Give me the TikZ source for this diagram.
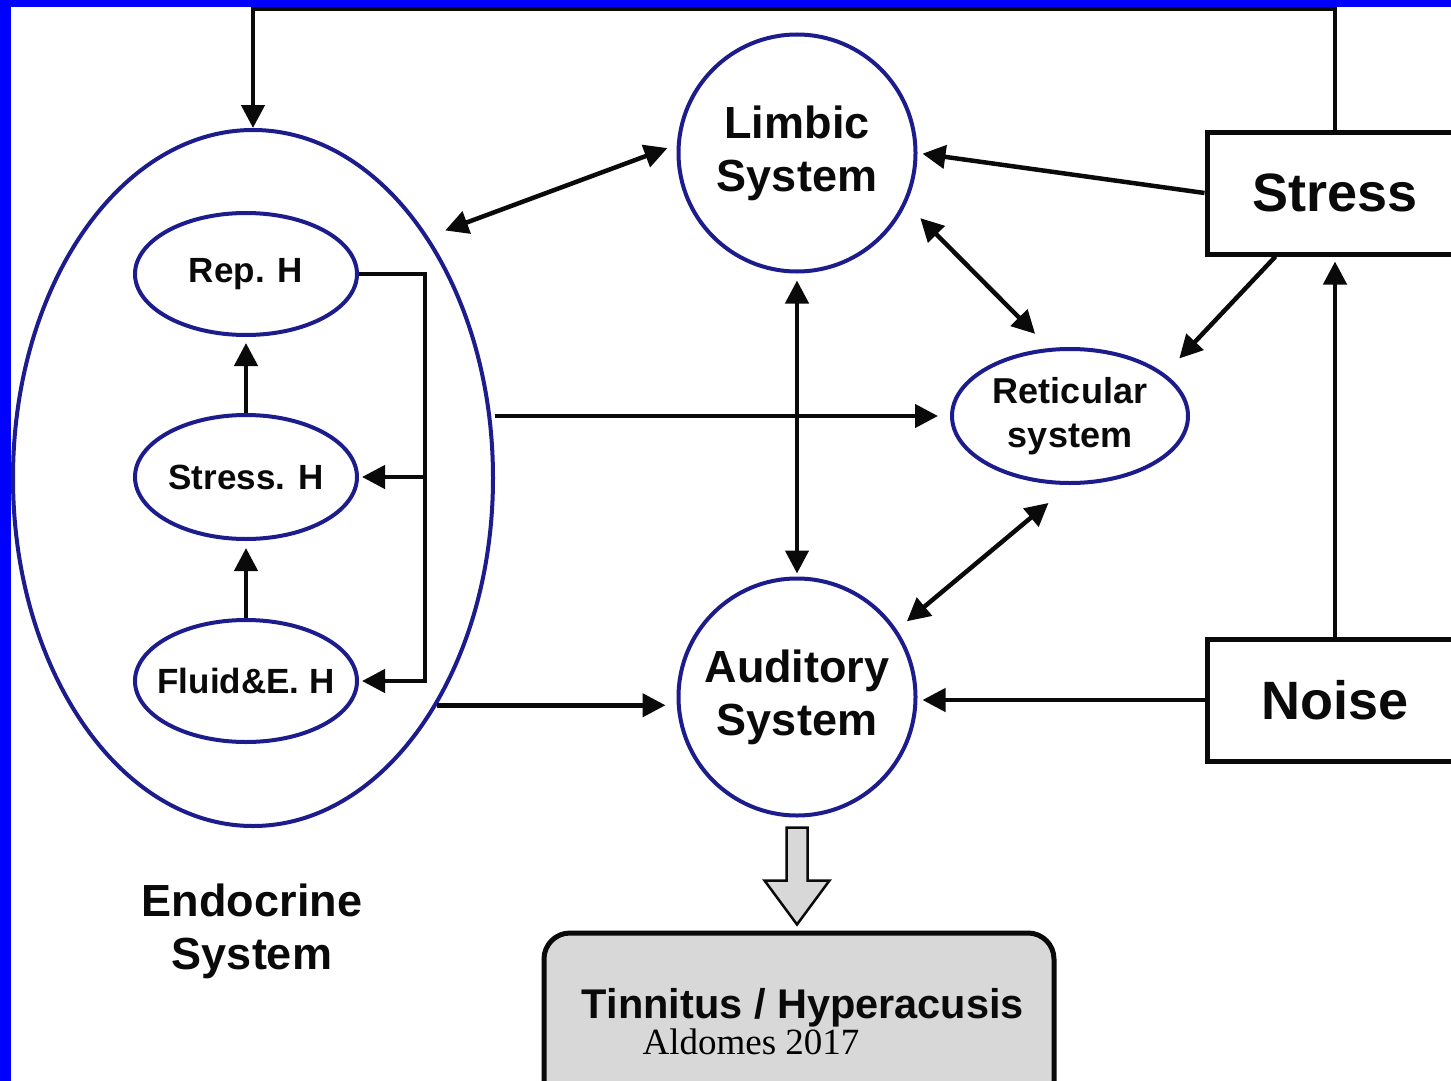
\documentclass[tikz,border=0pt]{standalone}
\usepackage{fontspec}
\setmainfont{Liberation Sans}
\newfontfamily\serifface{Liberation Serif}
\usetikzlibrary{arrows.meta,shapes.geometric,calc}

\definecolor{frameblue}{RGB}{0,0,255}
\definecolor{navy}{RGB}{28,28,140}
\definecolor{boxgray}{RGB}{216,216,216}
\definecolor{ink}{RGB}{10,10,10}

\begin{document}
\begin{tikzpicture}[x=1pt,y=-1pt,
  conn/.style={draw=ink, line width=4.5pt},
  arr/.style={conn, -{Triangle[length=23pt,width=23pt]}},
  dbl/.style={conn, {Triangle[length=23pt,width=23pt]}-{Triangle[length=23pt,width=23pt]}},
  organ/.style={circle, draw=navy, line width=4pt, minimum size=237pt, inner sep=0pt,
    align=center, text=ink, font=\fontsize{45}{53}\selectfont\bfseries},
  gland/.style={ellipse, draw=navy, line width=4pt, minimum width=222pt, minimum height=122pt,
    inner sep=0pt, text=ink, font=\fontsize{35}{40}\selectfont\bfseries},
  factor/.style={rectangle, draw=ink, line width=5pt, minimum width=256pt, minimum height=122pt,
    text=ink, font=\fontsize{54}{60}\selectfont\bfseries},
  caption/.style={align=center, text=ink, font=\fontsize{45}{53}\selectfont\bfseries}
]
\useasboundingbox (0,0) rectangle (1451,1081);
\clip (0,0) rectangle (1451,1081);
\fill[white] (0,0) rectangle (1451,1081);

% endocrine system with its three hormone groups
\node[ellipse, draw=navy, line width=4pt, minimum width=480pt, minimum height=696pt, inner sep=0pt] (endo) at (253,478) {};
\node[gland] (rep) at (246,274) {\makebox[0pt]{Rep. H}};
\node[gland, minimum height=124pt] (stressh) at (246,477) {\makebox[0pt]{Stress. H}};
\node[gland] (fluid) at (246,681) {\makebox[0pt]{Fluid\&E. H}};
\node[caption] (endolabel) at (252,931) {Endocrine\\System};

% central systems
\node[organ] (limbic) at (797,153) {Limbic\\System};
\node[organ] (audit) at (797,697) {Auditory\\System};
\node[ellipse, draw=navy, line width=4pt, minimum width=236pt, minimum height=134pt, inner sep=0pt,
  align=center, text=ink, font=\fontsize{36}{44}\selectfont\bfseries] (retic) at (1070,416) {Reticular\\system};

% external factors
\node[factor] (stressbox) at (1335,193) {Stress};
\node[factor] (noisebox) at (1335,700) {Noise};

% outcome box
\node[draw=ink, fill=boxgray, line width=5pt, rounded corners=26pt, minimum width=510pt, minimum height=200pt] (outcome) at (799,1033) {};
\node[caption, font=\fontsize{41.5}{46}\selectfont\bfseries] (tinn) at (803,1008) {Tinnitus / Hyperacusis};
\node[text=black, font=\serifface\fontsize{37}{40}\selectfont] (credit) at (751,1042) {Aldomes 2017};

% hollow arrow from the auditory system to the outcome
\path (audit.south) ++(0,10) coordinate (hs);
\draw[draw=ink, fill=boxgray, line width=2.5pt, line join=miter]
  ($(hs)+(-10.5,0)$) -- ($(hs)+(10.5,0)$) -- ($(hs)+(10.5,53)$) -- ($(hs)+(32.5,53)$)
  -- ($(hs)+(0,97)$) -- ($(hs)+(-32.5,53)$) -- ($(hs)+(-10.5,53)$) -- cycle;

% feedback from stress to the endocrine system
\coordinate (ceiling) at (800,9);
\draw[arr] (stressbox.north) |- (ceiling) -| (endo.north);

% connections between systems
\draw[dbl, shorten <=18pt, shorten >=10pt] (endo.54) -- (limbic.176);
\draw[arr, shorten >=5pt] (stressbox.west) -- (limbic.0);
\draw[dbl, shorten <=20pt, shorten >=20pt] (limbic.-25) -- (retic.107);
\draw[arr, shorten >=21pt] ($(stressbox.south west)+(71,0)$) -- (retic.24);
\draw[arr, shorten >=12pt] (endo.east |- retic.west) -- (retic.west);
\draw[dbl, shorten <=7pt, shorten >=3pt] (limbic.south) -- (audit.north);
\draw[dbl, shorten <=28pt, shorten >=13pt] (retic.-90) -- (audit.34);
\draw[arr, shorten >=5pt] (noisebox.west) -- (noisebox.west -| audit.east);
\draw[arr, shorten >=5pt] (noisebox.north) -- (stressbox.south);
\draw[arr, shorten >=11pt] (endo.-51) -- (endo.-51 -| audit.west);

% hormone cascade inside the endocrine system
\coordinate (bus) at ($(rep.east)+(66,0)$);
\draw[arr, shorten >=3pt] (rep.east) -- (bus) |- (fluid.east);
\draw[arr, shorten >=3pt] (bus |- stressh.east) -- (stressh.east);
\draw[arr, shorten >=6pt] (stressh.north) -- (rep.south);
\draw[arr, shorten >=7pt] (fluid.north) -- (stressh.south);

% slide frame
\fill[frameblue] (0,0) rectangle (1451,7);
\fill[frameblue] (0,0) rectangle (11,1081);
\end{tikzpicture}
\end{document}
